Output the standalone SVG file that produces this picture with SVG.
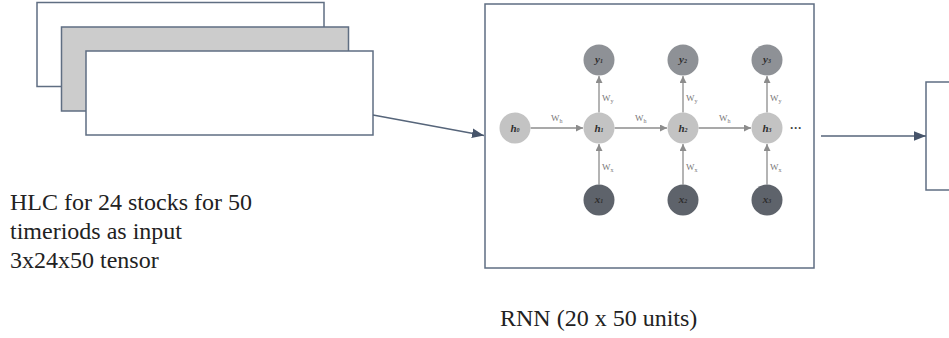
<svg xmlns="http://www.w3.org/2000/svg" width="949" height="338" viewBox="0 0 949 338">
<style>
.box{fill:#fff;stroke:#5f6e82;stroke-width:1.5}
.conn{stroke:#56657a;stroke-width:1.5;fill:none}
.edge{stroke:#8c8c8c;stroke-width:1.3;fill:none}
.hn{fill:#c3c3c3}
.yn{fill:#8e9196}
.xn{fill:#5e636b}
.nl{font-family:"Liberation Serif",serif;font-weight:bold;font-style:italic;font-size:11px;fill:#2e2e2e;text-anchor:middle}
.el{font-family:"Liberation Serif",serif;font-size:9px;fill:#777}
.cap{font-family:"Liberation Serif",serif;font-size:24px;fill:#222}
</style>
<defs>
<marker id="ah" viewBox="0 0 10 10" refX="10" refY="5" markerWidth="7" markerHeight="7" markerUnits="userSpaceOnUse" orient="auto">
<path d="M0,0 L10,5 L0,10 z" fill="#8c8c8c"/>
</marker>
<marker id="ab" viewBox="0 0 10 10" refX="10" refY="5" markerWidth="12" markerHeight="12" markerUnits="userSpaceOnUse" orient="auto">
<path d="M0,1 L10,5 L0,9 z" fill="#46546a"/>
</marker>
</defs>
<rect width="949" height="338" fill="#fff"/>
<g id="input-stack">
<rect class="box" x="37" y="2.5" width="287" height="84"/>
<rect class="box" x="61.5" y="27" width="287" height="84" style="fill:#cccccc"/>
<rect class="box" x="86" y="51" width="287" height="84"/>
<text class="cap" x="10" y="210">HLC for 24 stocks for 50</text>
<text class="cap" x="10" y="239">timeriods as input</text>
<text class="cap" x="10" y="268">3x24x50 tensor</text>
</g>
<g id="rnn">
<rect class="box" x="485" y="4" width="329" height="264"/>
<text class="cap" x="500" y="326">RNN (20 x 50 units)</text>
</g>
<g id="rnn-edges">
<line class="edge" x1="530.5" y1="128" x2="583" y2="128" marker-end="url(#ah)"/>
<line class="edge" x1="614.5" y1="128" x2="667" y2="128" marker-end="url(#ah)"/>
<line class="edge" x1="698.5" y1="128" x2="751" y2="128" marker-end="url(#ah)"/>
<line class="edge" x1="599" y1="184.5" x2="599" y2="144" marker-end="url(#ah)"/>
<line class="edge" x1="683" y1="184.5" x2="683" y2="144" marker-end="url(#ah)"/>
<line class="edge" x1="767" y1="184.5" x2="767" y2="144" marker-end="url(#ah)"/>
<line class="edge" x1="599" y1="112.5" x2="599" y2="76" marker-end="url(#ah)"/>
<line class="edge" x1="683" y1="112.5" x2="683" y2="76" marker-end="url(#ah)"/>
<line class="edge" x1="767" y1="112.5" x2="767" y2="76" marker-end="url(#ah)"/>
<text class="el" x="551" y="121">W<tspan font-size="6" dy="2">h</tspan></text>
<text class="el" x="635" y="121">W<tspan font-size="6" dy="2">h</tspan></text>
<text class="el" x="719" y="121">W<tspan font-size="6" dy="2">h</tspan></text>
<text class="el" x="602" y="101">W<tspan font-size="6" dy="2">y</tspan></text>
<text class="el" x="686" y="101">W<tspan font-size="6" dy="2">y</tspan></text>
<text class="el" x="770" y="101">W<tspan font-size="6" dy="2">y</tspan></text>
<text class="el" x="602" y="170">W<tspan font-size="6" dy="2">x</tspan></text>
<text class="el" x="686" y="170">W<tspan font-size="6" dy="2">x</tspan></text>
<text class="el" x="770" y="170">W<tspan font-size="6" dy="2">x</tspan></text>
</g>
<g id="node-h0"><circle class="hn" cx="515" cy="128" r="15.5"/><text class="nl" x="515" y="132">h<tspan font-size="6">0</tspan></text></g>
<g id="node-h1"><circle class="hn" cx="599" cy="128" r="15.5"/><text class="nl" x="599" y="132">h<tspan font-size="6">1</tspan></text></g>
<g id="node-h2"><circle class="hn" cx="683" cy="128" r="15.5"/><text class="nl" x="683" y="132">h<tspan font-size="6">2</tspan></text></g>
<g id="node-h3"><circle class="hn" cx="767" cy="128" r="15.5"/><text class="nl" x="767" y="132">h<tspan font-size="6">3</tspan></text></g>
<g id="node-y1"><circle class="yn" cx="599" cy="60" r="15.5"/><text class="nl" x="599" y="63">y<tspan font-size="6">1</tspan></text></g>
<g id="node-y2"><circle class="yn" cx="683" cy="60" r="15.5"/><text class="nl" x="683" y="63">y<tspan font-size="6">2</tspan></text></g>
<g id="node-y3"><circle class="yn" cx="767" cy="60" r="15.5"/><text class="nl" x="767" y="63">y<tspan font-size="6">3</tspan></text></g>
<g id="node-x1"><circle class="xn" cx="599" cy="200" r="15.5"/><text class="nl" x="599" y="203">x<tspan font-size="6">1</tspan></text></g>
<g id="node-x2"><circle class="xn" cx="683" cy="200" r="15.5"/><text class="nl" x="683" y="203">x<tspan font-size="6">2</tspan></text></g>
<g id="node-x3"><circle class="xn" cx="767" cy="200" r="15.5"/><text class="nl" x="767" y="203">x<tspan font-size="6">3</tspan></text></g>
<text x="796" y="132" font-family="Liberation Sans,sans-serif" font-size="12" font-weight="bold" fill="#444" text-anchor="middle">···</text>
<g id="output">
<rect class="box" x="926" y="82" width="40" height="108"/>
</g>
<g id="connectors">
<line class="conn" x1="373" y1="115" x2="484" y2="135.5" marker-end="url(#ab)"/>
<line class="conn" x1="821" y1="136" x2="926" y2="136" marker-end="url(#ab)"/>
</g>
</svg>
